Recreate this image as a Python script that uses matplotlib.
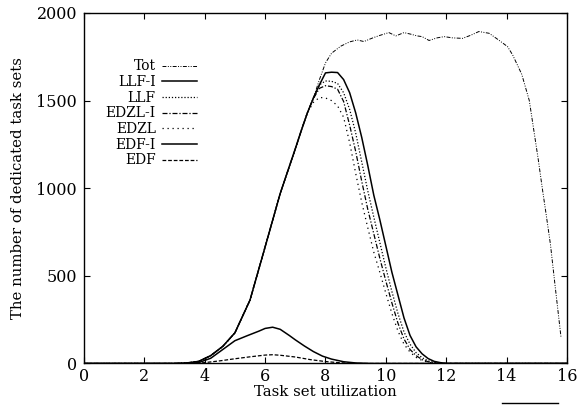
import matplotlib
matplotlib.use("Agg")
import matplotlib.pyplot as plt
from matplotlib.lines import Line2D

plt.rcParams['font.family'] = ['DejaVu Serif']

# ---- data ----
rise_x = [0, 3.0, 3.4, 3.8, 4.2, 4.6, 5.0, 5.5, 6.0, 6.5, 7.0, 7.2, 7.4]
rise_y = [0, 0, 3, 12, 45, 98, 175, 362, 665, 970, 1225, 1330, 1430]

desc_x = [7.6, 7.8, 8.0, 8.2, 8.4, 8.6, 8.8, 9.0, 9.2, 9.4, 9.6, 9.8, 10.0,
          10.2, 10.4, 10.6, 10.8, 11.0, 11.2, 11.4, 11.6, 11.8, 12.0, 16.0]
llf_i_y = [1515, 1590, 1658, 1662, 1660, 1620, 1545, 1430, 1290, 1130, 960, 820, 670,
           520, 390, 260, 160, 95, 55, 28, 12, 5, 0, 0]
llf_y = [1515, 1590, 1612, 1610, 1598, 1545, 1450, 1315, 1150, 985, 835, 690, 545,
         410, 285, 180, 110, 62, 33, 15, 6, 2, 0, 0]
edzl_i_y = [1512, 1570, 1585, 1580, 1565, 1495, 1360, 1210, 1040, 880, 740, 600, 470,
            345, 230, 140, 80, 45, 22, 10, 4, 0, 0, 0]
edzl_y = [1490, 1518, 1515, 1500, 1470, 1405, 1260, 1085, 920, 775, 635, 520, 400,
          285, 185, 110, 65, 35, 17, 7, 2, 0, 0, 0]

tot_x = [7.6, 7.8, 8.0, 8.2, 8.5, 8.8, 9.05, 9.27, 9.6, 9.8, 10.1, 10.33, 10.6, 10.8,
         11.04, 11.2, 11.43, 11.7, 11.93, 12.2, 12.54, 12.8, 13.08, 13.42, 13.7, 14.03,
         14.2, 14.5, 14.75, 14.9, 15.05, 15.18, 15.3, 15.45, 15.6, 15.7, 15.8]
tot_y = [1515, 1620, 1715, 1770, 1810, 1835, 1846, 1837, 1860, 1872, 1888, 1869, 1888, 1880,
         1869, 1865, 1843, 1858, 1865, 1858, 1855, 1872, 1894, 1884, 1850, 1808,
         1760, 1650, 1500, 1330, 1160, 1000, 860, 680, 450, 300, 150]

edf_i_x = [0, 3.4, 3.8, 4.2, 4.6, 5.0, 5.4, 5.8, 6.0, 6.25, 6.5, 6.8, 7.0, 7.3, 7.6, 7.9,
           8.2, 8.6, 9.0, 9.5, 16]
edf_i_y = [0, 0, 5, 30, 80, 130, 158, 185, 200, 207, 195, 160, 135, 100, 68, 42,
           25, 10, 3, 0, 0]

edf_x = [0, 3.6, 4.0, 4.5, 5.0, 5.5, 6.0, 6.25, 6.5, 7.0, 7.5, 8.0, 8.5, 9.0, 16]
edf_y = [0, 0, 5, 15, 27, 38, 48, 50, 47, 37, 22, 11, 4, 0, 0]

x_ticks = [0, 2, 4, 6, 8, 10, 12, 14, 16]
y_ticks = [0, 500, 1000, 1500, 2000]

# ---- figure ----
fig = plt.figure(figsize=(5.87, 4.05), dpi=100)
ax = fig.add_axes([0.143, 0.1025, 0.823, 0.8655])

styles = {
    'Tot':    dict(color='black', lw=0.7, dashes=(4, 1.5, 1, 1.5, 1, 1.5)),
    'LLF-I':  dict(color='black', lw=1.1, linestyle='-'),
    'LLF':    dict(color='black', lw=0.9, dashes=(1, 1.5)),
    'EDZL-I': dict(color='black', lw=0.9, dashes=(4, 1.5, 1, 1.5)),
    'EDZL':   dict(color='black', lw=0.9, dashes=(1, 3)),
    'EDF-I':  dict(color='black', lw=1.1, linestyle='-'),
    'EDF':    dict(color='black', lw=0.9, dashes=(3, 1.5)),
}

ax.plot(rise_x + tot_x, rise_y + tot_y, label='Tot', **styles['Tot'])
ax.plot(rise_x + desc_x, rise_y + llf_i_y, label='LLF-I', **styles['LLF-I'])
ax.plot(rise_x + desc_x, rise_y + llf_y, label='LLF', **styles['LLF'])
ax.plot(rise_x + desc_x, rise_y + edzl_i_y, label='EDZL-I', **styles['EDZL-I'])
ax.plot(rise_x + desc_x, rise_y + edzl_y, label='EDZL', **styles['EDZL'])
ax.plot(edf_i_x, edf_i_y, label='EDF-I', **styles['EDF-I'])
ax.plot(edf_x, edf_y, label='EDF', **styles['EDF'])

ax.set_xlim(0, 16)
ax.set_ylim(0, 2000)
ax.set_xticks(x_ticks)
ax.set_yticks(y_ticks)
ax.tick_params(direction='in', length=4, width=0.8, top=True, right=True,
               labelsize=11.5, pad=5)
ax.tick_params(axis='x', pad=3)
for s in ax.spines.values():
    s.set_linewidth(1.0)

ax.set_xlabel('Task set utilization', fontsize=10.7, labelpad=0)
ax.set_ylabel('The number of dedicated task sets', fontsize=10.7, labelpad=8)

leg = ax.legend(loc='upper left', bbox_to_anchor=(0.025, 0.895), frameon=False,
                markerfirst=False, fontsize=10, handlelength=2.5,
                handletextpad=0.45, labelspacing=0.12, borderaxespad=0.3)
for t in leg.get_texts():
    t.set_ha('right')
leg._legend_box.align = 'right'

# small stray rule at bottom right of the reference
fig.add_artist(Line2D([501.7 / 587, 558.3 / 587], [1 - 403 / 405, 1 - 403 / 405],
                      color='black', lw=1.0, transform=fig.transFigure))

fig.savefig('out.png', dpi=100)
